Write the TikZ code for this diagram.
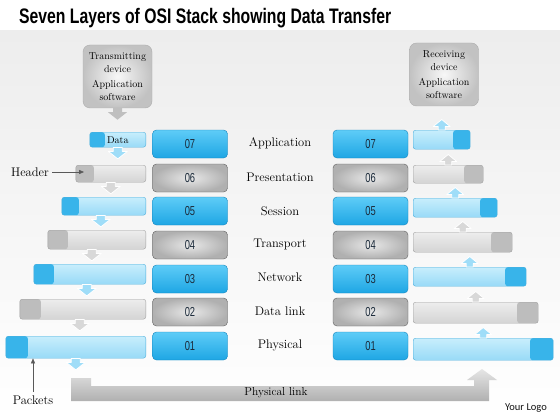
\documentclass[tikz,border=0pt]{standalone}
\usepackage{fontspec}
\newfontfamily\titlefont{Liberation Sans}
\newfontfamily\numfont{Liberation Sans}
\newfontfamily\logofont{Carlito}
\usetikzlibrary{arrows.meta, shadings, positioning}

\definecolor{bggrey}{HTML}{EDEDED}
\definecolor{numblue}{HTML}{1EA6E4}
\definecolor{numbluehi}{HTML}{5ECCF7}
\definecolor{numblueedge}{HTML}{1484BC}
\definecolor{barblue}{HTML}{98DAF7}
\definecolor{barbluehi}{HTML}{C8EEFC}
\definecolor{barblueedge}{HTML}{4DAFDC}
\definecolor{headblue}{HTML}{38B4EA}
\definecolor{arrblue}{HTML}{9FDDF8}
\definecolor{bargrey}{HTML}{D4D4D4}
\definecolor{bargreyhi}{HTML}{EDEDED}
\definecolor{bargreyedge}{HTML}{A2A2A2}
\definecolor{headgrey}{HTML}{BDBDBD}
\definecolor{arrgrey}{HTML}{D8D8D8}
\definecolor{numtext}{HTML}{1B2A3A}

\newcommand{\nnum}[1]{\scalebox{0.72}[1]{#1}}

\tikzset{
	devbox/.style={rounded corners=7pt, draw=gray!65, inner color=gray!6, outer color=gray!48,
		minimum width=69pt, minimum height=63pt, align=center, inner sep=1pt,
		font=\fontsize{10}{12.5}\selectfont},
	numbox/.style={rounded corners=4pt, minimum width=75pt, minimum height=28pt, inner sep=0pt,
		font=\fontsize{13}{13}\numfont, text=numtext},
	bluebox/.style={numbox, draw=numblueedge, top color=numbluehi, bottom color=numblue},
	greybox/.style={numbox, draw=gray!75!black, inner color=gray!18, outer color=gray!62},
	bar/.style={rounded corners=2.5pt, inner sep=0pt},
	bluebar/.style={bar, draw=barblueedge, top color=barbluehi, bottom color=barblue},
	greybar/.style={bar, draw=bargreyedge, top color=bargreyhi, bottom color=bargrey},
	headl/.style 2 args={path picture={\fill[#1] (path picture bounding box.south west) rectangle ([xshift=#2]path picture bounding box.north west);}},
	tailr/.style 2 args={path picture={\fill[#1] (path picture bounding box.south east) rectangle ([xshift=-#2]path picture bounding box.north east);}},
	dnarr/.pic={\path[pic actions] (-4.5,0) -- (-4.5,4) -- (-9.5,4) -- (0,11.5) -- (9.5,4) -- (4.5,4) -- (4.5,0) -- cycle;},
	uparr/.pic={\path[pic actions] (-3.5,0) -- (-3.5,-3.5) -- (-8.5,-3.5) -- (0,-10.5) -- (8.5,-3.5) -- (3.5,-3.5) -- (3.5,0) -- cycle;},
}

\begin{document}
\begin{tikzpicture}[line join=round, >={Stealth[inset=0pt,length=5pt,angle'=45]}, every node/.style={font=\fontsize{12.5}{12.5}\selectfont}]
	\begin{scope}[x=1pt, y=-1pt]
		\fill[white] (0,0) rectangle (560,420);
		\shade[top color=bggrey, bottom color=white] (0,31) rectangle (560,420);
		\useasboundingbox (0,0) rectangle (560,420);
		\node[anchor=base west, inner sep=0pt, font=\fontsize{21}{21}\titlefont\bfseries] (title) at (19,24) {\scalebox{0.75}[1]{Seven Layers of OSI Stack showing Data Transfer}};

		% devices
		\node[devbox] (txdev) at (117.5,76.5) {Transmitting\\device\\[3pt]Application\\software};
		\pic[fill=gray!50, draw=none] at (txdev.south) {dnarr};
		\node[devbox] (rxdev) at (444,74.5) {Receiving\\device\\[3pt]Application\\software};

		% transmitting stack
		\node[bluebar, headl={headblue}{15pt}, minimum width=56pt, minimum height=15pt, anchor=north east, font=\fontsize{10}{10}\selectfont] (tl7) at (146,132) {Data};
		\node[greybar, headl={headgrey}{18pt}, minimum width=70pt, minimum height=17pt, anchor=north east] (tl6) at (146,165) {};
		\node[bluebar, headl={headblue}{17pt}, minimum width=84pt, minimum height=18pt, anchor=north east] (tl5) at (146,197) {};
		\node[greybar, headl={headgrey}{20pt}, minimum width=98pt, minimum height=19pt, anchor=north east] (tl4) at (146,230) {};
		\node[bluebar, headl={headblue}{20pt}, minimum width=112pt, minimum height=20pt, anchor=north east] (tl3) at (146,264) {};
		\node[greybar, headl={headgrey}{21pt}, minimum width=126pt, minimum height=20pt, anchor=north east] (tl2) at (146,299) {};
		\node[bluebar, headl={headblue}{22pt}, minimum width=140pt, minimum height=22pt, anchor=north east] (tl1) at (146,336) {};
		\pic[fill=arrblue, draw=white, line width=0.8pt] at (tl7.south) {dnarr};
		\pic[fill=arrgrey, draw=white, line width=0.8pt] at (tl6.south) {dnarr};
		\pic[fill=arrblue, draw=white, line width=0.8pt] at ([xshift=-3pt]tl5.south) {dnarr};
		\pic[fill=arrgrey, draw=white, line width=0.8pt] at ([xshift=-5pt]tl4.south) {dnarr};
		\pic[fill=arrblue, draw=white, line width=0.8pt] at ([xshift=-3pt]tl3.south) {dnarr};
		\pic[fill=arrgrey, draw=white, line width=0.8pt] at ([xshift=-3pt]tl2.south) {dnarr};
		\pic[fill=arrblue, draw=white, line width=0.8pt] at (tl1.south) {dnarr};

		% layer numbers and names
		\node[bluebox] (nl7) at (190,144) {\nnum{07}};
		\node[greybox] (nl6) at (190,178) {\nnum{06}};
		\node[bluebox] (nl5) at (190,211) {\nnum{05}};
		\node[greybox] (nl4) at (190,245) {\nnum{04}};
		\node[bluebox] (nl3) at (190,279) {\nnum{03}};
		\node[greybox] (nl2) at (190,312) {\nnum{02}};
		\node[bluebox] (nl1) at (190,346) {\nnum{01}};
		\node (lay7) at (280,143) {Application};
		\node (lay6) at (280,177) {Presentation};
		\node (lay5) at (280,211) {Session};
		\node (lay4) at (280,244) {Transport};
		\node (lay3) at (280,277) {Network};
		\node (lay2) at (280,311) {Data link};
		\node (lay1) at (280,345) {Physical};
		\node[bluebox] (nr7) at (370.5,144) {\nnum{07}};
		\node[greybox] (nr6) at (370.5,178) {\nnum{06}};
		\node[bluebox] (nr5) at (370.5,211) {\nnum{05}};
		\node[greybox] (nr4) at (370.5,245) {\nnum{04}};
		\node[bluebox] (nr3) at (370.5,279) {\nnum{03}};
		\node[greybox] (nr2) at (370.5,312) {\nnum{02}};
		\node[bluebox] (nr1) at (370.5,346) {\nnum{01}};

		% receiving stack
		\node[bluebar, tailr={headblue}{17pt}, minimum width=57pt, minimum height=19pt, anchor=north west] (rr7) at (413,130) {};
		\node[greybar, tailr={headgrey}{19pt}, minimum width=70pt, minimum height=18pt, anchor=north west] (rr6) at (413,165) {};
		\node[bluebar, tailr={headblue}{17pt}, minimum width=84pt, minimum height=19pt, anchor=north west] (rr5) at (413,198) {};
		\node[greybar, tailr={headgrey}{21pt}, minimum width=99pt, minimum height=20pt, anchor=north west] (rr4) at (413,232) {};
		\node[bluebar, tailr={headblue}{21pt}, minimum width=113pt, minimum height=19pt, anchor=north west] (rr3) at (413,267) {};
		\node[greybar, tailr={headgrey}{21pt}, minimum width=125pt, minimum height=21pt, anchor=north west] (rr2) at (413,302) {};
		\node[bluebar, tailr={headblue}{23pt}, minimum width=140pt, minimum height=22pt, anchor=north west] (rr1) at (413,338) {};
		\pic[fill=arrblue, draw=white, line width=0.8pt] at (rr7.north) {uparr};
		\pic[fill=arrgrey, draw=white, line width=0.8pt] at (rr6.north) {uparr};
		\pic[fill=arrblue, draw=white, line width=0.8pt] at (rr5.north) {uparr};
		\pic[fill=arrgrey, draw=white, line width=0.8pt] at (rr4.north) {uparr};
		\pic[fill=arrblue, draw=white, line width=0.8pt] at (rr3.north) {uparr};
		\pic[fill=arrgrey, draw=white, line width=0.8pt] at (rr2.north) {uparr};
		\pic[fill=arrblue, draw=white, line width=0.8pt] at (rr1.north) {uparr};

		% callouts
		\node (header) at (30,172) {Header};
		\coordinate (hdrtip) at (84,172);
		\draw[->, gray!70!black, thin] (header) -- (hdrtip);
		\node (packets) at (33,400) {Packets};
		\draw[->, gray!70!black, thin] (packets.north) -- (packets.north |- tl1.south);

		% physical link
		\shade[top color=gray!20, bottom color=gray!62] (71,378) -- (91,378) -- (91,386) -- (474,386) -- (474,380) -- (467,380) -- (482,369) -- (497,380) -- (489,380) -- (489,401) -- (71,401) -- cycle;
		\node[font=\fontsize{11.5}{11.5}\selectfont] (plink) at (276,393) {Physical link};
		\node[font=\fontsize{10.5}{10.5}\logofont, text=gray!15!black] (logo) at (526,408) {Your Logo};
	\end{scope}
\end{tikzpicture}
\end{document}
